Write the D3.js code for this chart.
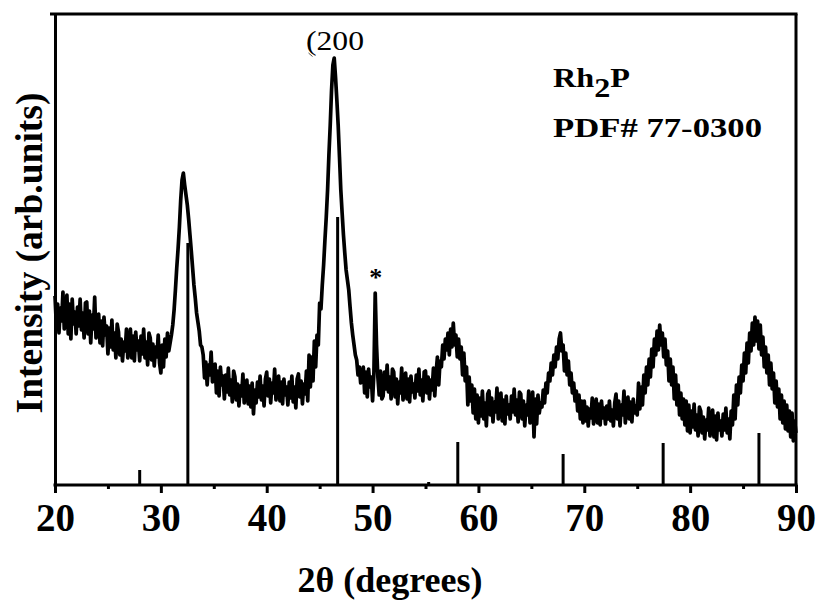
<!DOCTYPE html>
<html>
<head>
<meta charset="utf-8">
<script src="https://cdn.jsdelivr.net/npm/d3@7"></script>
<style>
  html, body { margin: 0; padding: 0; background: #fff; }
  svg { display: block; }
  text { font-family: "Liberation Serif", "Times New Roman", serif; fill: #000; }
</style>
</head>
<body>
<svg id="chart" width="818" height="601"></svg>
<script>
// Measured XRD pattern: intensity (arb. units), one row per degree of 2-theta,
// sampled every 0.125 degrees from 20 to 90
const twoThetaStart = 20;
const twoThetaStep = 0.125;
const intensity = [
  189,160,181,152,177,164,193,156, // 20
  168,190,151,181,146,186,161,173, // 21
  151,178,159,186,155,172,147,182, // 22
  183,151,174,142,170,156,188,147, // 23
  155,171,142,164,139,168,150,159, // 24
  131,157,138,165,135,152,127,161, // 25
  153,130,146,124,143,134,156,127, // 26
  140,156,127,149,124,153,135,144, // 27
  124,149,131,156,127,143,120,152, // 28
  147,125,141,119,138,128,150,122, // 29
  112,140,118,146,128,152,134,142, // 30
  150,160,175,195,217,236,258,285, // 31
  305,312,300,290,280,266,250,234, // 32
  217,200,187,172,163,154,140,138, // 33
  130,107,123,100,120,110,133,103, // 34
  105,121,92,114,89,118,100,109,   // 35
  86,110,93,117,90,105,83,114,     // 36
  108,85,101,79,99,89,111,82,      // 37
  92,105,81,99,78,102,71,95,       // 38
  82,103,88,109,85,99,79,106,      // 39
  113,89,106,82,102,92,116,85,     // 40
  95,109,84,103,81,106,90,98,      // 41
  80,103,87,109,83,98,77,106,      // 42
  111,88,104,81,101,91,114,84,     // 43
  130,98,128,104,144,118,150,140,  // 44
  182,176,200,220,245,268,295,330, // 45
  360,395,420,427,408,385,360,328, // 46
  295,272,250,232,215,205,195,178, // 47
  162,150,140,130,125,110,118,102, // 48
  104,118,92,113,88,116,98,108,    // 49
  84,112,192,140,108,90,114,86,    // 50
  89,113,96,120,93,108,86,116,     // 51
  113,88,106,81,103,92,117,85,     // 52
  97,112,86,106,83,109,93,101,     // 53
  87,110,94,116,90,105,84,113,     // 54
  114,92,108,86,105,95,117,89,     // 55
  112,128,100,124,118,140,126,146, // 56
  135,152,130,156,138,162,140,150, // 57
  128,146,126,138,110,132,104,118, // 58
  80,108,84,100,72,96,66,90,       // 59
  62,87,69,94,66,82,59,91,         // 60
  94,70,87,63,83,73,97,66,         // 61
  77,92,64,85,61,89,71,80,         // 62
  66,89,73,96,70,85,63,93,         // 63
  91,66,84,59,80,70,94,62,         // 64
  77,93,48,86,61,90,72,82,         // 65
  78,95,82,102,92,112,104,122,     // 66
  110,130,118,138,126,146,152,134, // 67
  140,114,132,110,124,100,112,92,  // 68
  102,84,94,74,90,66,84,62,        // 69
  84,64,78,59,76,67,87,61,         // 70
  73,86,62,81,60,84,67,77,         // 71
  61,79,66,84,64,75,59,82,         // 72
  91,66,84,59,80,70,94,62,         // 73
  76,88,66,83,63,86,72,79,         // 74
  70,102,76,98,80,110,92,118,      // 75
  100,126,108,136,118,146,130,154, // 76
  135,160,140,152,128,146,120,134, // 77
  104,126,100,118,86,110,80,100,   // 78
  70,92,66,86,60,84,54,80,         // 79
  52,74,58,81,55,70,49,78,         // 80
  74,52,68,46,65,55,77,49,         // 81
  60,75,48,69,45,72,55,64,         // 82
  49,71,55,77,52,66,46,74,         // 83
  60,90,66,100,80,108,92,120,      // 84
  104,132,112,142,122,152,134,162, // 85
  140,168,144,164,136,160,130,148, // 86
  118,138,112,130,100,122,96,112,  // 87
  82,104,78,96,66,90,62,84,        // 88
  56,80,54,74,48,72,44,64,         // 89
  52                               // 90
];

// Reference pattern for Rh2P (PDF# 77-0300): line positions and relative heights
const refPositions = [28.0, 32.55, 46.7, 55.3, 58.05, 68.0, 77.45, 86.5];
const refHeights   = [15,   242,   268,  3,    43,    31,   42,    52];

// Axis ticks
const majorTicks = [20, 30, 40, 50, 60, 70, 80, 90];
const minorTicks = [25, 35, 45, 55, 65, 75, 85];

const svg = d3.select("#chart");
const plotLeft = 55, plotRight = 796, plotTop = 14, plotBottom = 485;

const x = d3.scaleLinear().domain([20, 90]).range([plotLeft, plotRight]);
const y = d3.scaleLinear().domain([0, 471]).range([plotBottom, plotTop]);

const pattern = intensity.map((v, i) => ({ t: twoThetaStart + i * twoThetaStep, v }));

// Reference sticks
svg.append("g")
  .selectAll("line")
  .data(refPositions.map((p, i) => ({ p, h: refHeights[i] })))
  .join("line")
  .attr("x1", d => x(d.p)).attr("x2", d => x(d.p))
  .attr("y1", y(0)).attr("y2", d => y(d.h))
  .attr("stroke", "#000").attr("stroke-width", 3);

// Measured pattern
svg.append("path")
  .datum(pattern)
  .attr("fill", "none")
  .attr("stroke", "#000")
  .attr("stroke-width", 3.7)
  .attr("stroke-linejoin", "round")
  .attr("d", d3.line().x(d => x(d.t)).y(d => y(d.v)));

// Bottom axis with major and minor ticks
const xAxis = d3.axisBottom(x).tickValues(majorTicks).tickSize(8).tickSizeOuter(0).tickPadding(10)
  .tickFormat(d3.format("d"));
const gx = svg.append("g").attr("transform", `translate(0,${plotBottom})`).call(xAxis);
gx.select(".domain").attr("stroke-width", 3).attr("d", `M${plotLeft - 1.5},0H${plotRight + 1.5}`);
gx.selectAll(".tick line").attr("stroke-width", 3);
gx.selectAll(".tick text")
  .attr("font-family", "'Liberation Serif', 'Times New Roman', serif")
  .attr("font-size", 39).attr("font-weight", "bold").attr("fill", "#000");

const xMinor = d3.axisBottom(x).tickValues(minorTicks).tickSize(4).tickFormat("");
const gm = svg.append("g").attr("transform", `translate(0,${plotBottom})`).call(xMinor);
gm.select(".domain").remove();
gm.selectAll(".tick line").attr("stroke-width", 3);

// Frame: left axis, top and right borders
const yAxis = d3.axisLeft(y).tickValues([]).tickSizeOuter(0);
const gy = svg.append("g").attr("transform", `translate(${plotLeft},0)`).call(yAxis);
gy.select(".domain").attr("stroke-width", 3);

svg.append("line").attr("x1", 50).attr("x2", plotRight + 1.5).attr("y1", plotTop).attr("y2", plotTop)
  .attr("stroke", "#000").attr("stroke-width", 3);
svg.append("line").attr("x1", plotRight).attr("x2", plotRight).attr("y1", plotTop).attr("y2", plotBottom)
  .attr("stroke", "#000").attr("stroke-width", 3);

// Axis titles
svg.append("text")
  .attr("x", 390).attr("y", 592)
  .attr("text-anchor", "middle")
  .attr("font-size", 36).attr("font-weight", "bold")
  .text("2θ (degrees)");

svg.append("text")
  .attr("transform", "translate(42,253) rotate(-90)")
  .attr("text-anchor", "middle")
  .attr("font-size", 37.5).attr("font-weight", "bold")
  .text("Intensity (arb.units)");

// Annotations, widened to their set widths
function fitWidth(sel, w) {
  sel.attr("textLength", w).attr("lengthAdjust", "spacingAndGlyphs");
}

const hkl = svg.append("text")
  .attr("x", 306).attr("y", 50)
  .attr("font-size", 27)
  .text("(200");
fitWidth(hkl, 58);

svg.append("path")
  .attr("d", "M308.5,53L312.5,56.5")
  .attr("stroke", "#555").attr("stroke-width", 1).attr("fill", "none");

const formulaG = svg.append("g").attr("transform", "translate(553,87)");
const formula = formulaG.append("text").attr("font-size", 27).attr("font-weight", "bold");
formula.append("tspan").text("Rh");
formula.append("tspan").attr("dy", 10).text("2");
formula.append("tspan").attr("dy", -10).text("P");
const fw = formula.node().getBBox().width;
formulaG.attr("transform", `translate(553,87) scale(${77 / fw},1)`);

const pdf = svg.append("text")
  .attr("x", 553).attr("y", 137)
  .attr("font-size", 27).attr("font-weight", "bold")
  .text("PDF# 77-0300");
fitWidth(pdf, 209);

svg.append("text")
  .attr("x", x(50.3)).attr("y", 286)
  .attr("text-anchor", "middle")
  .attr("font-size", 26).attr("font-weight", "bold")
  .text("*");
</script>
</body>
</html>
